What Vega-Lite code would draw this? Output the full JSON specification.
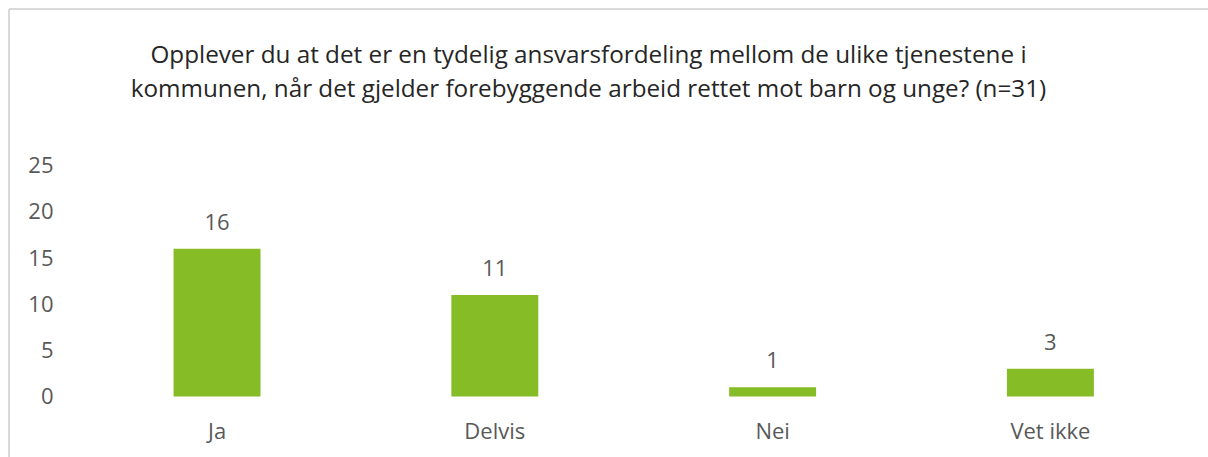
{
  "$schema": "https://vega.github.io/schema/vega-lite/v6.json",
  "autosize": {"type": "none"},
  "padding": {"left": 9, "top": 9, "right": 0, "bottom": 0},
  "width": 1199,
  "height": 448,
  "background": "white",
  "title": {
    "text": ["Opplever du at det er en tydelig ansvarsfordeling mellom de ulike tjenestene i", "kommunen, når det gjelder forebyggende arbeid rettet mot barn og unge? (n=31)"],
    "orient": "top",
    "anchor": "middle",
    "frame": "group",
    "baseline": "alphabetic",
    "offset": -113,
    "dx": -20,
    "lineHeight": 34,
    "font": "Open Sans",
    "fontSize": 24.25,
    "fontWeight": "normal",
    "color": "#262626"
  },
  "data": {
    "values": [
      {"svar": "Ja", "antall": 16},
      {"svar": "Delvis", "antall": 11},
      {"svar": "Nei", "antall": 1},
      {"svar": "Vet ikke", "antall": 3}
    ]
  },
  "config": {
    "view": {"stroke": null},
    "font": "Open Sans"
  },
  "resolve": {"scale": {"x": "independent"}, "axis": {"x": "independent"}},
  "layer": [
    {
      "layer": [
        {
          "mark": {"type": "bar", "color": "#86bc25"},
          "encoding": {"y2": {"datum": 0}}
        },
        {
          "mark": {"type": "text", "baseline": "alphabetic", "dy": -19, "fontSize": 22, "color": "#595959", "font": "Open Sans"},
          "encoding": {"text": {"field": "antall", "type": "quantitative"}}
        }
      ],
      "encoding": {
        "x": {
          "field": "svar",
          "type": "nominal",
          "sort": null,
          "scale": {"paddingInner": 0.687, "paddingOuter": 0.5016, "align": 0.5905},
          "axis": {
            "title": null,
            "orient": "bottom",
            "offset": -60.5,
            "domain": false,
            "ticks": false,
            "labelAngle": 0,
            "labelBaseline": "alphabetic",
            "labelPadding": 42,
            "labelFont": "Open Sans",
            "labelFontSize": 22,
            "labelColor": "#595959"
          }
        },
        "y": {
          "field": "antall",
          "type": "quantitative",
          "scale": {"domain": [-6.555, 41.98], "nice": false, "zero": false},
          "axis": {
            "title": null,
            "values": [0, 5, 10, 15, 20, 25],
            "offset": -44,
            "domain": false,
            "ticks": false,
            "grid": false,
            "labelPadding": 0,
            "labelFont": "Open Sans",
            "labelFontSize": 22,
            "labelColor": "#595959"
          }
        }
      }
    },
    {
      "data": {"values": [{}]},
      "mark": {"type": "rule", "color": "#d9d9d9", "strokeWidth": 2},
      "encoding": {"y": {"datum": 41.98, "type": "quantitative"}}
    },
    {
      "data": {"values": [{}]},
      "mark": {"type": "rule", "color": "#d9d9d9", "strokeWidth": 2},
      "encoding": {"x": {"datum": 0, "type": "quantitative", "scale": {"domain": [0, 1], "nice": false}, "axis": null}}
    }
  ]
}
